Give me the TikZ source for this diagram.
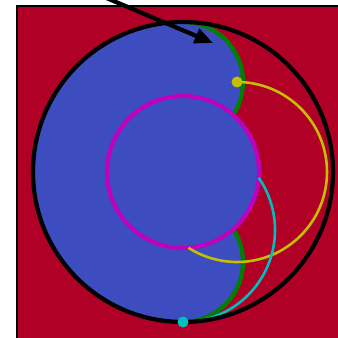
\documentclass[tikz,border=0pt]{standalone}
\usetikzlibrary{arrows.meta}
\definecolor{bgred}{RGB}{176,0,38}
\definecolor{fillblue}{RGB}{61,76,191}
\definecolor{arcgreen}{RGB}{0,128,0}
\definecolor{ringmag}{RGB}{191,0,191}
\definecolor{arcyel}{RGB}{196,191,0}
\definecolor{arccyan}{RGB}{0,191,191}

\begin{document}
\begin{tikzpicture}[x=0.03cm,y=0.03cm,>={Triangle[length=0.55cm,width=0.45cm]},
  ringline/.style={line width=3.6pt},
  thinarc/.style={line width=2.2pt},
  dotmark/.style={circle,inner sep=0pt,minimum size=0.33cm}]
\useasboundingbox (-183,-166) rectangle (155,172);
\clip (-183,-166) rectangle (155,172);
\filldraw[fill=bgred,draw=black,line width=1pt] (-166,166) rectangle (175,-180);
\coordinate (O) at (0,0);
\coordinate (G1) at (0,90);
\coordinate (G2) at (0,-90);
\fill[fillblue] (0,150) arc[start angle=90,end angle=270,radius=150] -- cycle;
\fill[fillblue] (G1) circle[radius=60] (G2) circle[radius=60] (O) circle[radius=76];
% outer rims of the two small circles
\draw[arcgreen,ringline] (0,150) arc[start angle=90,end angle=-33.2,radius=60];
\draw[arcgreen,ringline] (0,-150) arc[start angle=-90,end angle=33.2,radius=60];
\draw[ringmag,ringline] (O) circle[radius=76];
\draw[arcyel,thinarc] (54,90) arc[start angle=90,end angle=-122.6,radius=90];
\draw[arccyan,thinarc] (0,-150) arc[start angle=-90,end angle=34.6,radius=92];
\draw[ringline] (O) circle[radius=150];
\node[dotmark,fill=arcyel] (ydot) at (54,90) {};
\node[dotmark,fill=arccyan] (cdot) at (0,-150) {};
\coordinate (tail) at (-86,178);
\coordinate (tip) at (30,129);
\draw[->,ringline] (tail) -- (tip);
\end{tikzpicture}
\end{document}
